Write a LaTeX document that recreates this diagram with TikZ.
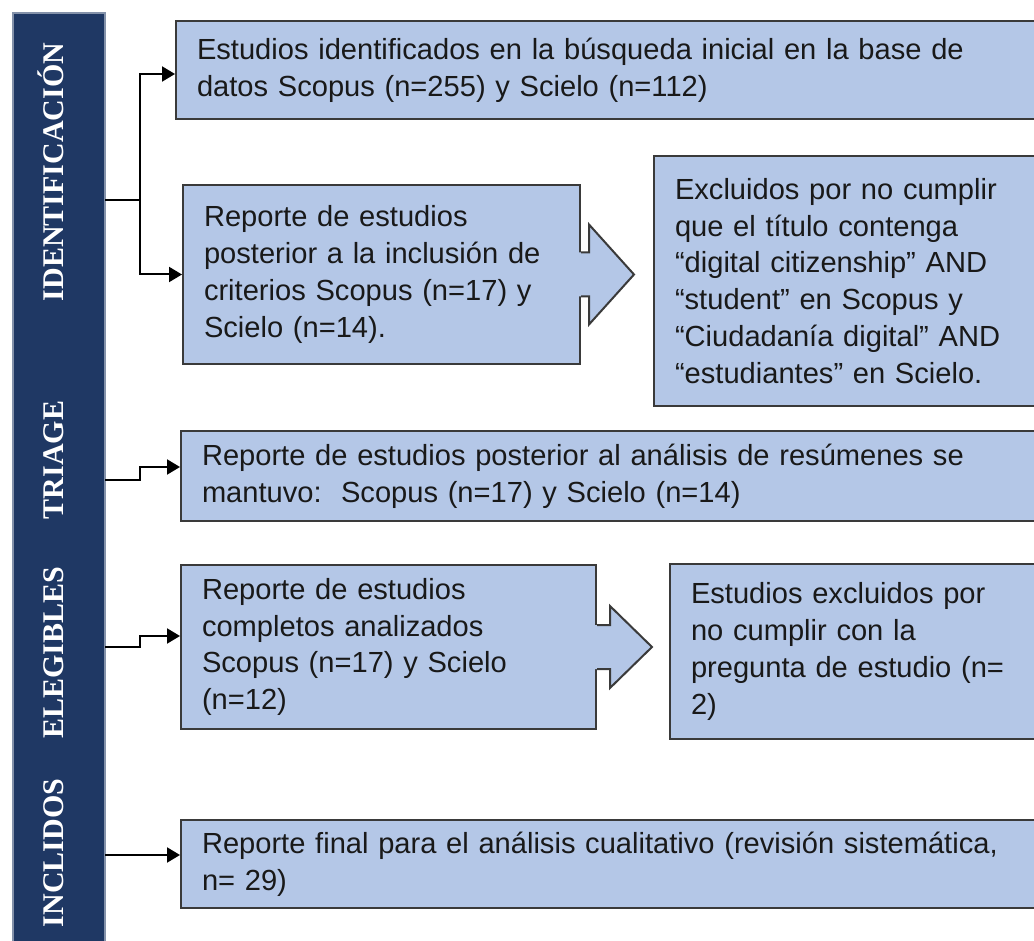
\documentclass[tikz,border=0pt]{standalone}
\usepackage{fontspec}
\setmainfont{Liberation Sans}
\newfontfamily\barfont{Liberation Serif}[BoldFont={Liberation Serif Bold}]
\usetikzlibrary{arrows.meta}

\definecolor{barblue}{HTML}{1F3864}
\definecolor{boxblue}{HTML}{B4C7E7}
\definecolor{boxline}{HTML}{3A3A3A}

\tikzset{
	stagebox/.style={draw=boxline, fill=boxblue, line width=2pt, anchor=north west,
		align=left, inner xsep=21pt, inner ysep=0pt, text=black!90,
		font=\fontsize{29.1}{36.8}\selectfont},
	stagelabel/.style={rotate=90, anchor=base, inner sep=0pt, text=white,
		font=\barfont\bfseries\fontsize{30}{36}\selectfont},
	link/.style={line width=2pt, -{Triangle[length=13pt,width=15pt]}},
	blockline/.style={draw=boxline, line width=2pt, line join=miter}
}

\begin{document}
\begin{tikzpicture}[x=1pt,y=-1pt]
	\useasboundingbox (0,0) rectangle (1034,941);
	
	% the stage bar on the left
	\fill[barblue] (13,13) rectangle (105,945);
	\draw[barblue!55!white, line width=1.2pt] (13,945) -- (13,13) -- (105,13) -- (105,945);
	\node[stagelabel] (labIdent) at (63,172) {IDENTIFICACIÓN};
	\node[stagelabel] (labTriage) at (63,460) {TRIAGE};
	\node[stagelabel] (labEleg) at (63,653) {ELEGIBLES};
	\node[stagelabel] (labIncl) at (63,853) {INCLIDOS};
	
	% the boxes
	\node[stagebox, text width=819pt, minimum height=98pt] (ident) at (175,20)
		{Estudios identificados en la búsqueda inicial en la base de\\datos Scopus (n=255) y Scielo (n=112)};
	\node[stagebox, text width=355pt, minimum height=179pt] (posterior) at (182,184)
		{Reporte de estudios\\posterior a la inclusión de\\criterios Scopus (n=17) y\\Scielo (n=14).};
	\node[stagebox, text width=341pt, minimum height=250pt] (excl) at (653,155)
		{Excluidos por no cumplir\\que el título contenga\\“digital citizenship” AND\\“student” en Scopus y\\“Ciudadanía digital” AND\\“estudiantes” en Scielo.};
	\node[stagebox, text width=814pt, minimum height=90pt] (triage) at (180,430)
		{Reporte de estudios posterior al análisis de resúmenes se\\mantuvo:\ \ Scopus (n=17) y Scielo (n=14)};
	\node[stagebox, text width=373pt, minimum height=164pt] (completos) at (180,564)
		{Reporte de estudios\\completos analizados\\Scopus (n=17) y Scielo\\(n=12)};
	\node[stagebox, text width=325pt, minimum height=175pt] (exclpreg) at (669,563)
		{Estudios excluidos por\\no cumplir con la\\pregunta de estudio (n=\\2)};
	\node[stagebox, text width=814pt, minimum height=88pt] (final) at (180,819)
		{Reporte final para el análisis cualitativo (revisión sistemática,\\n= 29)};
	
	% block arrows
	\begin{scope}[shift={(posterior.east)}]
		\fill[boxblue] (-4,-22) -- (8,-22) -- (8,-50) -- (53,0) -- (8,50) -- (8,22) -- (-4,22) -- cycle;
		\draw[blockline] (0,-22) -- (8,-22) -- (8,-50) -- (53,0) -- (8,50) -- (8,22) -- (0,22);
	\end{scope}
	\begin{scope}[shift={(completos.east)}]
		\fill[boxblue] (-4,-22) -- (13,-22) -- (13,-41) -- (55,0) -- (13,41) -- (13,22) -- (-4,22) -- cycle;
		\draw[blockline] (0,-22) -- (13,-22) -- (13,-41) -- (55,0) -- (13,41) -- (13,22) -- (0,22);
	\end{scope}
	
	% connectors from the bar
	\coordinate (s1) at (105,200);
	\coordinate (fork1) at (140,200);
	\coordinate (s2) at (105,480);
	\coordinate (s3) at (105,647);
	\coordinate (s4) at (105,855);
	\draw[line width=2pt] (s1) -- (fork1);
	\draw[link] (fork1) |- ([yshift=-4pt]ident.west);
	\draw[link] (fork1) |- (posterior.west);
	\draw[link] (s2) -- ++(35,0) |- ([yshift=9pt]triage.west);
	\draw[link] (s3) -- ++(35,0) |- ([yshift=11pt]completos.west);
	\draw[link] (s4) -- (s4 -| final.west);
\end{tikzpicture}
\end{document}
